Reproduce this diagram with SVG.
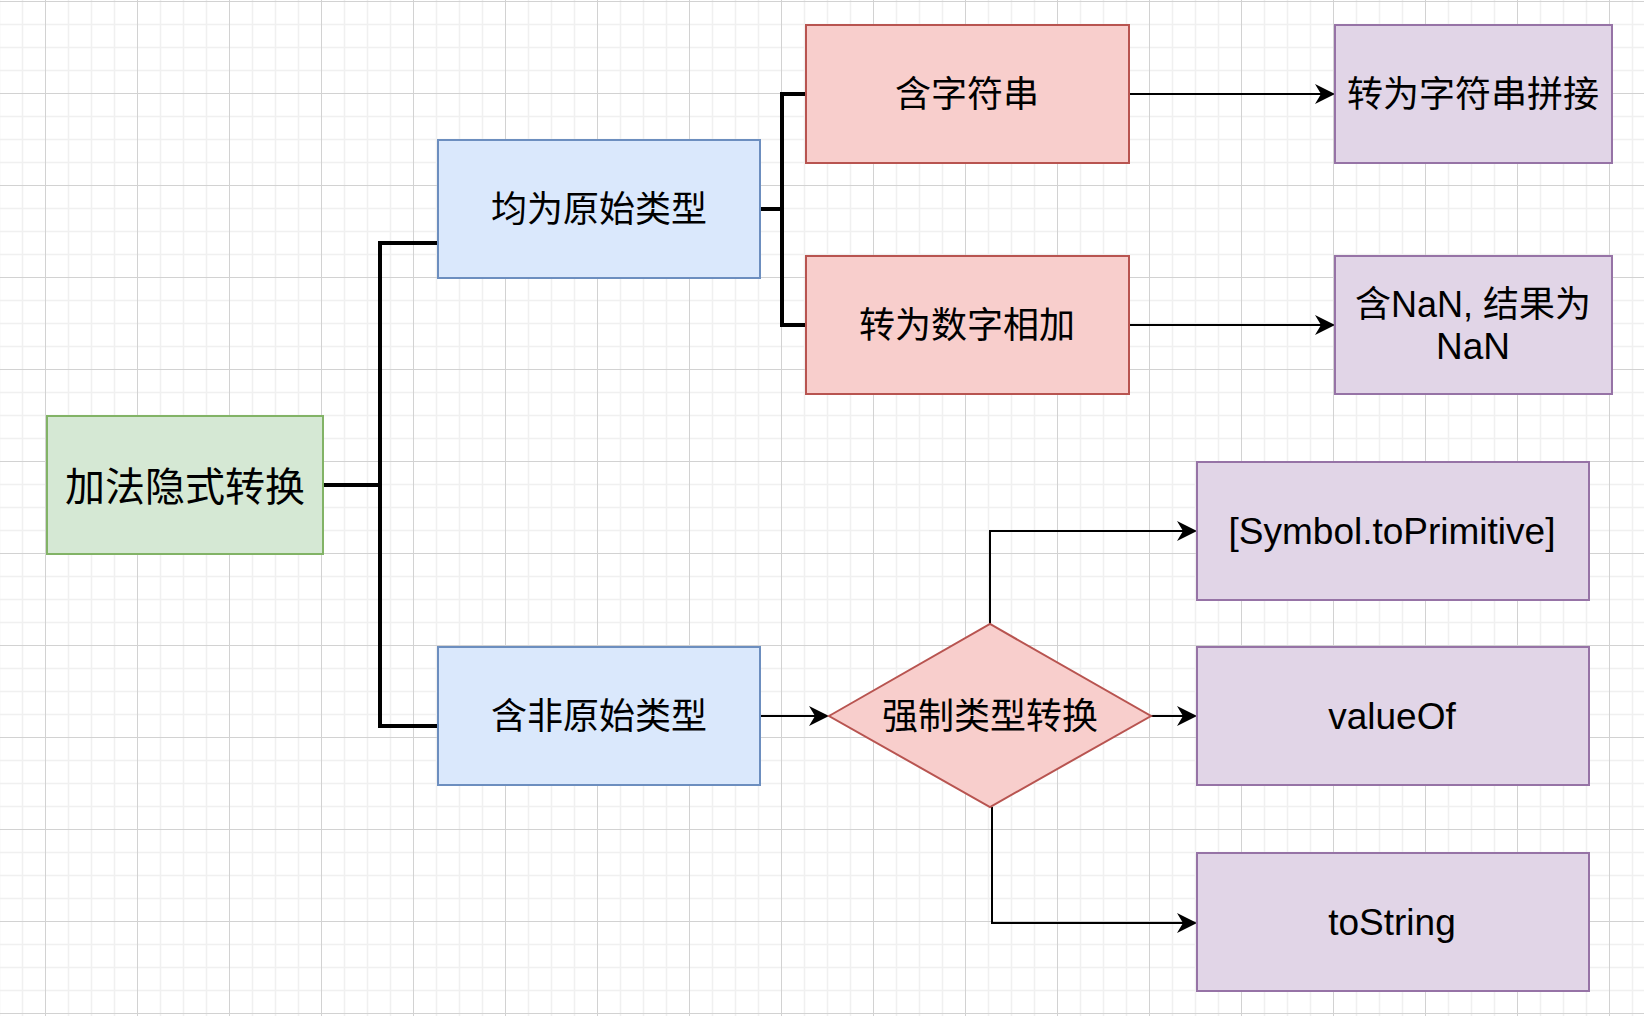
<svg xmlns="http://www.w3.org/2000/svg" width="1644" height="1016" viewBox="0 0 1644 1016">
<defs>
<pattern id="grid" x="45" y="1" width="92" height="92" patternUnits="userSpaceOnUse">
<path d="M23.5,0V92M46.5,0V92M69.5,0V92M0,23.5H92M0,46.5H92M0,69.5H92" stroke="#f0f0f0" stroke-width="1.5" fill="none"/>
<path d="M0.5,0V92M0,0.5H92" stroke="#d2d2d2" stroke-width="1" fill="none"/>
</pattern>
<marker id="arrow" viewBox="0 0 20 20" markerWidth="20" markerHeight="20" refX="6" refY="10" orient="auto" markerUnits="userSpaceOnUse">
<path d="M20,10 L0,0 L6,10 L0,20 Z" fill="#000"/>
</marker>
<style>
.t{font-family:"Liberation Sans","Noto Sans CJK SC",sans-serif;font-size:36px;fill:#000;text-anchor:middle}
.l{font-size:37px}
.g{fill:#d5e8d4;stroke:#82b366;stroke-width:2}
.b{fill:#dae8fc;stroke:#6c8ebf;stroke-width:2}
.r{fill:#f8cecc;stroke:#b85450;stroke-width:2}
.p{fill:#e1d5e7;stroke:#9673a6;stroke-width:2}
.thick{fill:none;stroke:#000;stroke-width:4}
.thin{fill:none;stroke:#000;stroke-width:2;marker-end:url(#arrow)}
</style>
</defs>
<rect width="1644" height="1016" fill="#fff"/>
<rect width="1644" height="1016" fill="url(#grid)"/>

<g id="connectors">
<path class="thick" d="M323,485H380V243H438"/>
<path class="thick" d="M380,485V726H438"/>
<path class="thick" d="M760,209H782V94H806"/>
<path class="thick" d="M782,209V325H806"/>
<path class="thin" d="M1129,94H1321"/>
<path class="thin" d="M1129,325H1321"/>
<path class="thin" d="M760,716H815"/>
<path class="thin" d="M990,624V531H1183"/>
<path class="thin" d="M1151,716H1183"/>
<path class="thin" d="M992,807V923H1183"/>
</g>

<g id="root">
<rect class="g" x="47" y="416" width="276" height="138"/>
<text class="t" x="185" y="501" style="font-size:40px">加法隐式转换</text>
</g>
<g id="primitive">
<rect class="b" x="438" y="140" width="322" height="138"/>
<text class="t" x="599" y="222">均为原始类型</text>
</g>
<g id="nonprimitive">
<rect class="b" x="438" y="647" width="322" height="138"/>
<text class="t" x="599" y="729">含非原始类型</text>
</g>
<g id="hasstring">
<rect class="r" x="806" y="25" width="323" height="138"/>
<text class="t" x="967" y="107">含字符串</text>
</g>
<g id="tonumber">
<rect class="r" x="806" y="256" width="323" height="138"/>
<text class="t" x="967" y="338">转为数字相加</text>
</g>
<g id="concat">
<rect class="p" x="1335" y="25" width="277" height="138"/>
<text class="t" x="1473" y="107">转为字符串拼接</text>
</g>
<g id="nan">
<rect class="p" x="1335" y="256" width="277" height="138"/>
<text class="t" x="1473" y="317">含NaN, 结果为</text>
<text class="t l" x="1473" y="359">NaN</text>
</g>
<g id="coerce">
<polygon class="r" points="829,716 990,624 1151,716 990,807"/>
<text class="t" x="990" y="729">强制类型转换</text>
</g>
<g id="toprimitive">
<rect class="p" x="1197" y="462" width="392" height="138"/>
<text class="t l" x="1392" y="544">[Symbol.toPrimitive]</text>
</g>
<g id="valueof">
<rect class="p" x="1197" y="647" width="392" height="138"/>
<text class="t l" x="1392" y="729">valueOf</text>
</g>
<g id="tostring">
<rect class="p" x="1197" y="853" width="392" height="138"/>
<text class="t l" x="1392" y="935">toString</text>
</g>
</svg>
